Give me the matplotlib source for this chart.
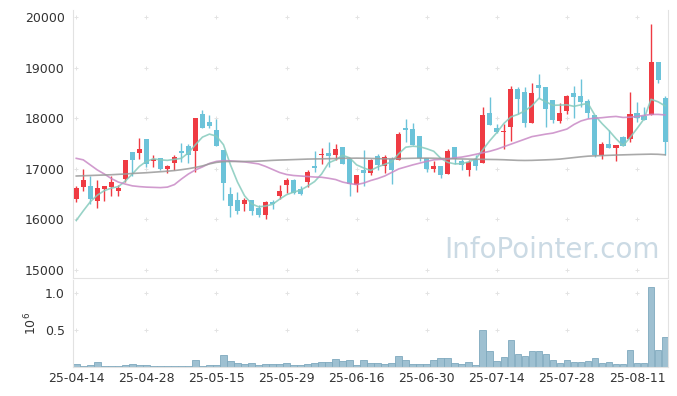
import numpy as np
import matplotlib
matplotlib.use("Agg")
import matplotlib.pyplot as plt

# daily candles, 85 trading days (25-04-14 .. 25-08-18)
opens = [16410, 16650, 16660, 16360, 16610, 16650, 16570, 16800, 17340, 17320,
         17600, 17150, 17210, 17000, 17120, 17360, 17460, 17360, 18090, 17920,
         17770, 17380, 16510, 16380, 16310, 16390, 16220, 16080, 16340, 16460,
         16690, 16780, 16610, 16740, 17050, 17270, 17320, 17270, 17440, 17200,
         16690, 16970, 16920, 17250, 17050, 17200, 17180, 17810, 17790, 17660,
         17210, 16990, 17050, 16900, 17430, 17150, 16970, 17170, 17110, 18110,
         17810, 17730, 17840, 18580, 18530, 17900, 18660, 18620, 18360, 17940,
         18140, 18500, 18440, 18350, 18070, 17280, 17500, 17420, 17630, 17600,
         18100, 18040, 18060, 19120, 18400]
highs = [16660, 16990, 16860, 16790, 16670, 16870, 16690, 17180, 17340, 17610,
         17600, 17280, 17210, 17080, 17270, 17520, 17500, 18010, 18170, 18070,
         17980, 17380, 16650, 16540, 16420, 16390, 16280, 16360, 16380, 16690,
         16820, 16800, 16660, 16970, 17360, 17410, 17540, 17500, 17440, 17200,
         16880, 17380, 17200, 17300, 17270, 17230, 17730, 17990, 17910, 17660,
         17220, 17150, 17050, 17400, 17430, 17200, 17170, 17270, 18220, 18420,
         17890, 17890, 18640, 18620, 18620, 18700, 18880, 18620, 18360, 18300,
         18460, 18650, 18790, 18380, 18070, 17530, 17780, 17480, 17650, 18530,
         18320, 18220, 19870, 19120, 18440]
lows = [16340, 16560, 16300, 16220, 16370, 16460, 16460, 16740, 16870, 17190,
        17040, 17040, 16970, 16920, 16970, 17130, 17120, 16940, 17810, 17810,
        17460, 16380, 16050, 16110, 16160, 16080, 16050, 16000, 16200, 16410,
        16520, 16510, 16480, 16640, 16940, 17100, 17040, 17170, 17100, 16460,
        16540, 16670, 16880, 16970, 16920, 16710, 17180, 17530, 17480, 17150,
        16940, 16940, 16820, 16900, 17100, 16980, 16860, 16970, 17110, 17880,
        17710, 17400, 17560, 18090, 17830, 17900, 18400, 17840, 17910, 17900,
        18090, 18000, 18220, 18000, 17230, 17190, 17410, 17150, 17460, 17540,
        17920, 17960, 18060, 18710, 17280]
closes = [16620, 16790, 16400, 16620, 16660, 16740, 16620, 17180, 17170, 17400,
          17100, 17190, 17000, 17060, 17240, 17320, 17270, 18010, 17810, 17860,
          17460, 16720, 16260, 16160, 16390, 16160, 16090, 16340, 16310, 16560,
          16790, 16520, 16500, 16940, 17020, 17300, 17250, 17400, 17100, 16710,
          16880, 16920, 17180, 17070, 17230, 16970, 17690, 17780, 17480, 17210,
          16990, 17060, 16880, 17350, 17200, 17070, 17130, 17050, 18070, 17880,
          17740, 17760, 18580, 18390, 17900, 18500, 18600, 18180, 17960, 18100,
          18440, 18430, 18330, 18100, 17270, 17500, 17410, 17480, 17460, 18090,
          18010, 17960, 19120, 18760, 17540]
volumes = [40, 10, 27, 67, 13, 13, 13, 27, 40, 27,
           27, 13, 13, 13, 13, 13, 13, 94, 13, 27,
           27, 160, 85, 54, 40, 54, 27, 40, 40, 40,
           54, 27, 27, 40, 54, 67, 67, 107, 80, 94,
           27, 94, 54, 54, 40, 54, 147, 94, 40, 40,
           40, 94, 120, 120, 54, 40, 67, 27, 500, 214,
           80, 134, 362, 174, 147, 214, 214, 174, 94, 54,
           94, 67, 67, 80, 120, 54, 67, 40, 40, 228,
           54, 54, 1080, 228, 400]  # thousand shares

# moving averages as drawn
ma5 = [15980, 16170, 16350, 16480, 16570, 16620, 16650, 16760, 16900, 17050,
       17150, 17200, 17180, 17170, 17190, 17210, 17320, 17480, 17630, 17690,
       17650, 17480, 17080, 16740, 16470, 16310, 16250, 16265, 16300, 16400,
       16490, 16540, 16580, 16660, 16750, 16900, 17120, 17180, 17270, 17220,
       17080, 17020, 16970, 17040, 17090, 17140, 17300, 17430, 17450, 17440,
       17400, 17350, 17210, 17130, 17100, 17105, 17140, 17200, 17380, 17560,
       17720, 17900, 18030, 18080, 18150, 18250, 18400, 18330, 18260, 18265,
       18270, 18240, 18270, 18300, 18060, 17900, 17760, 17600, 17460, 17620,
       17800, 17990, 18380, 18330, 18250]
ma20 = [17210, 17180, 17080, 16980, 16900, 16810, 16740, 16700, 16665, 16650,
        16640, 16635, 16630, 16640, 16690, 16800, 16900, 16980, 17040, 17110,
        17150, 17165, 17160, 17150, 17140, 17120, 17100, 17050, 16990, 16930,
        16890, 16870, 16860, 16850, 16840, 16835, 16815, 16790, 16740, 16710,
        16690, 16720, 16770, 16810, 16860, 16930, 17000, 17040, 17080, 17115,
        17150, 17180, 17190, 17200, 17220, 17235, 17260, 17290, 17320, 17350,
        17390, 17440, 17490, 17540, 17590, 17640, 17665, 17690, 17710, 17750,
        17790, 17880, 17950, 17990, 18005, 18015, 18030, 18040, 18020, 18025,
        18040, 18060, 18080, 18080, 18070]
ma60 = [16860, 16865, 16870, 16875, 16880, 16885, 16893, 16900, 16910, 16918,
        16925, 16935, 16945, 16955, 16968, 16985, 17005, 17030, 17060, 17100,
        17130, 17145, 17148, 17148, 17148, 17150, 17155, 17162, 17170, 17176,
        17180, 17185, 17190, 17195, 17198, 17200, 17203, 17206, 17210, 17212,
        17214, 17212, 17208, 17204, 17200, 17202, 17205, 17208, 17211, 17213,
        17214, 17212, 17208, 17204, 17200, 17198, 17195, 17192, 17190, 17188,
        17186, 17182, 17176, 17170, 17168, 17170, 17175, 17180, 17186, 17195,
        17210, 17225, 17240, 17253, 17260, 17265, 17270, 17275, 17279, 17283,
        17287, 17290, 17293, 17290, 17280]

tick_labels = ["25-04-14", "25-04-28", "25-05-15", "25-05-29", "25-06-16",
               "25-06-30", "25-07-14", "25-07-28", "25-08-11"]

UP = "#ef3b43"
DOWN = "#6cc3d9"
TXT = "#333333"
SPINE = "#e2e2e2"

o = np.array(opens)
h = np.array(highs)
l = np.array(lows)
c = np.array(closes)
x = np.arange(len(o))
cols = np.where(c >= o, UP, DOWN)

fig = plt.figure(figsize=(6.77, 3.96), dpi=100)
ax = fig.add_axes([0.108, 0.298, 0.879, 0.677])
axv = fig.add_axes([0.108, 0.073, 0.879, 0.220], sharex=ax)

# candles
ax.vlines(x, l, h, colors=cols, lw=1.0, zorder=2)
body = np.maximum(np.abs(c - o), 15)
ax.bar(x, body, bottom=np.minimum(o, c), width=0.72, color=cols, zorder=3)

ax.plot(x, ma5, color="#86cbbd", lw=1.2, alpha=0.85, zorder=4)
ax.plot(x, ma20, color="#c98ac6", lw=1.2, alpha=0.85, zorder=4)
ax.plot(x, ma60, color="#9a9a9a", lw=1.2, alpha=0.85, zorder=4)

ax.set_xlim(-0.45, len(x) - 0.55)
ax.set_ylim(14840, 20150)
yt = [15000, 16000, 17000, 18000, 19000, 20000]
ax.set_yticks(yt)
xt = list(range(0, len(x), 10))
ax.set_xticks(xt)
ax.tick_params(axis="x", labelbottom=False, length=0)
ax.tick_params(axis="y", length=0, labelsize=9, labelcolor=TXT, pad=6)

# little grid crosses
gx, gy = np.meshgrid(xt, yt)
ax.scatter(gx.ravel(), gy.ravel(), marker="+", s=10, color="#e3e3e3", lw=0.7, zorder=1)

ax.text(0.985, 0.075, "InfoPointer.com", transform=ax.transAxes, ha="right",
        va="baseline", fontsize=20, color="#cbdae4", zorder=0)

# volume
vol = np.array(volumes) / 1000.0
axv.bar(x, vol, width=0.95, color="#9ec0d1", edgecolor="#7fa9be", lw=0.6)
axv.set_ylim(0, 1.17)
axv.set_yticks([0.5, 1.0])
axv.set_yticklabels(["0.5", "1.0"])
axv.set_xticks(xt)
axv.set_xticklabels(tick_labels)
axv.tick_params(length=0, labelsize=9, labelcolor=TXT)
axv.tick_params(axis="y", pad=6)
axv.set_ylabel(r"$10^6$", color=TXT, fontsize=9, labelpad=4)
gx, gy = np.meshgrid(xt, [0.5, 1.0])
axv.scatter(gx.ravel(), gy.ravel(), marker="+", s=10, color="#e3e3e3", lw=0.7, zorder=0)

for a in (ax, axv):
    for s in a.spines.values():
        s.set_color(SPINE)
        s.set_linewidth(0.8)
    a.spines["top"].set_visible(False)

fig.savefig("out.png", dpi=100, facecolor="white")
